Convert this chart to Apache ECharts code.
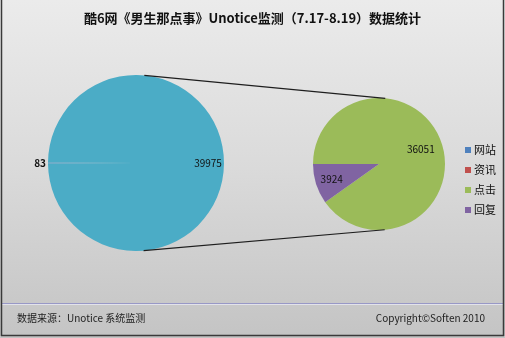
<!DOCTYPE html>
<html><head><meta charset="utf-8">
<script src="https://cdn.jsdelivr.net/npm/echarts@6/dist/echarts.min.js"></script>
<style>html,body{margin:0;padding:0;background:#fff}#c{width:505px;height:338px}</style>
</head><body><div id="c"></div>
<script>
// ---- data ----
const titleText = '酷6网《男生那点事》Unotice监测（7.17-8.19）数据统计';
const sourceText = '数据来源：Unotice 系统监测';
const copyrightText = 'Copyright©Soften 2010';
const categories = ['网站', '资讯', '点击', '回复'];
const values = [83, 0, 36051, 3924];
const otherName = '其他';
const colors = ['#4F81BD', '#C0504D', '#9BBB59', '#8064A2'];
const otherColor = '#4BACC6';

// ---- layout ----
const C1 = [136, 163], R1 = 88;
const C2 = [379, 164], R2 = 66;
const FONT = '"Noto Sans CJK SC", "Noto Sans", sans-serif';

const otherValue = values[2] + values[3];
const leftTotal = values[0] + values[1] + otherValue;
const firstAngle = (values[0] + values[1]) / leftTotal * 360;

// external tangent lines between the two pies
const dx = C2[0] - C1[0], dy = C2[1] - C1[1];
const d = Math.hypot(dx, dy);
const ux = dx / d, uy = dy / d;
const s = (R1 - R2) / d, c = Math.sqrt(1 - s * s);
function tangent(sign) {
  const nx = s * ux - sign * c * uy;
  const ny = s * uy + sign * c * ux;
  return {x1: C1[0] + R1 * nx, y1: C1[1] + R1 * ny, x2: C2[0] + R2 * nx, y2: C2[1] + R2 * ny};
}
const lineStyle = {stroke: '#1e1e1e', lineWidth: 1.2};

const lbl = {color: '#111', fontSize: 10, fontFamily: FONT};
const rightLabelShift = [[0, -4], [0, 4]];

const chart = echarts.init(document.getElementById('c'), null, {renderer: 'canvas'});
chart.setOption({
  animation: false,
  backgroundColor: {type: 'linear', x: 0, y: 0, x2: 0, y2: 1, colorStops: [
    {offset: 0, color: '#ebebeb'}, {offset: 0.5, color: '#dadada'}, {offset: 1, color: '#c4c4c4'}]},
  title: [
    {text: titleText, left: 'center', top: 7, textStyle: {fontSize: 13, fontWeight: 'bold', color: '#111', fontFamily: FONT}},
    {text: sourceText, left: 12, top: 308, textStyle: {fontSize: 10, fontWeight: 'normal', color: '#222', fontFamily: FONT}},
    {text: copyrightText, right: 15, top: 308, textStyle: {fontSize: 10, fontWeight: 'normal', color: '#222', fontFamily: FONT}}
  ],
  legend: {
    orient: 'vertical', left: 460, top: 139,
    data: categories,
    itemWidth: 6, itemHeight: 6, itemGap: 8,
    icon: 'rect',
    textStyle: {fontSize: 11, lineHeight: 12, color: '#111', fontFamily: FONT, padding: [0, 0, 0, -2]}
  },
  graphic: [
    {type: 'line', shape: tangent(-1), style: lineStyle, z: 10},
    {type: 'line', shape: tangent(1), style: lineStyle, z: 10},
    {type: 'line', shape: {x1: 2, y1: 303.5, x2: 503, y2: 303.5}, style: {stroke: '#9898c6', lineWidth: 1}},
    {type: 'line', shape: {x1: 2, y1: 304.5, x2: 503, y2: 304.5}, style: {stroke: '#e2e2ea', lineWidth: 1}},
    {type: 'line', shape: {x1: 1.5, y1: 0, x2: 1.5, y2: 336}, style: {stroke: '#3a3a3a', lineWidth: 1.5}},
    {type: 'line', shape: {x1: 503.5, y1: 0, x2: 503.5, y2: 336}, style: {stroke: '#3a3a3a', lineWidth: 1.5}},
    {type: 'line', shape: {x1: 1, y1: 335.5, x2: 504, y2: 335.5}, style: {stroke: '#3a3a3a', lineWidth: 1.5}}
  ],
  series: [
    {
      type: 'pie', center: C1, radius: R1, startAngle: 180 + firstAngle / 2, clockwise: true,
      avoidLabelOverlap: false, silent: true,
      label: Object.assign({show: true, formatter: '{c}'}, lbl),
      labelLine: {show: false, length: 0, length2: 2},
      data: [
        {name: categories[0], value: values[0], itemStyle: {color: colors[0]},
          label: {position: 'outside', fontWeight: 'bold', distanceToLabelLine: 0}},
        {name: categories[1], value: values[1], itemStyle: {color: colors[1]}, label: {show: false}},
        {name: otherName, value: otherValue, itemStyle: {color: otherColor},
          label: {position: 'inside', padding: [0, 0, 0, 50]}}
      ]
    },
    {
      type: 'pie', center: C2, radius: R2, startAngle: 180, clockwise: true,
      avoidLabelOverlap: false, silent: true,
      label: Object.assign({show: true, position: 'inside', formatter: '{c}'}, lbl),
      labelLine: {show: false},
      labelLayout: function (p) {
        const sh = rightLabelShift[p.dataIndex] || [0, 0];
        return {dx: sh[0], dy: sh[1]};
      },
      data: [
        {name: categories[2], value: values[2], itemStyle: {color: colors[2]}, label: {padding: [0, 0, 15, 15]}},
        {name: categories[3], value: values[3], itemStyle: {color: colors[3]}, label: {padding: [18, 26, 0, 0]}}
      ]
    }
  ]
});
</script></body></html>
